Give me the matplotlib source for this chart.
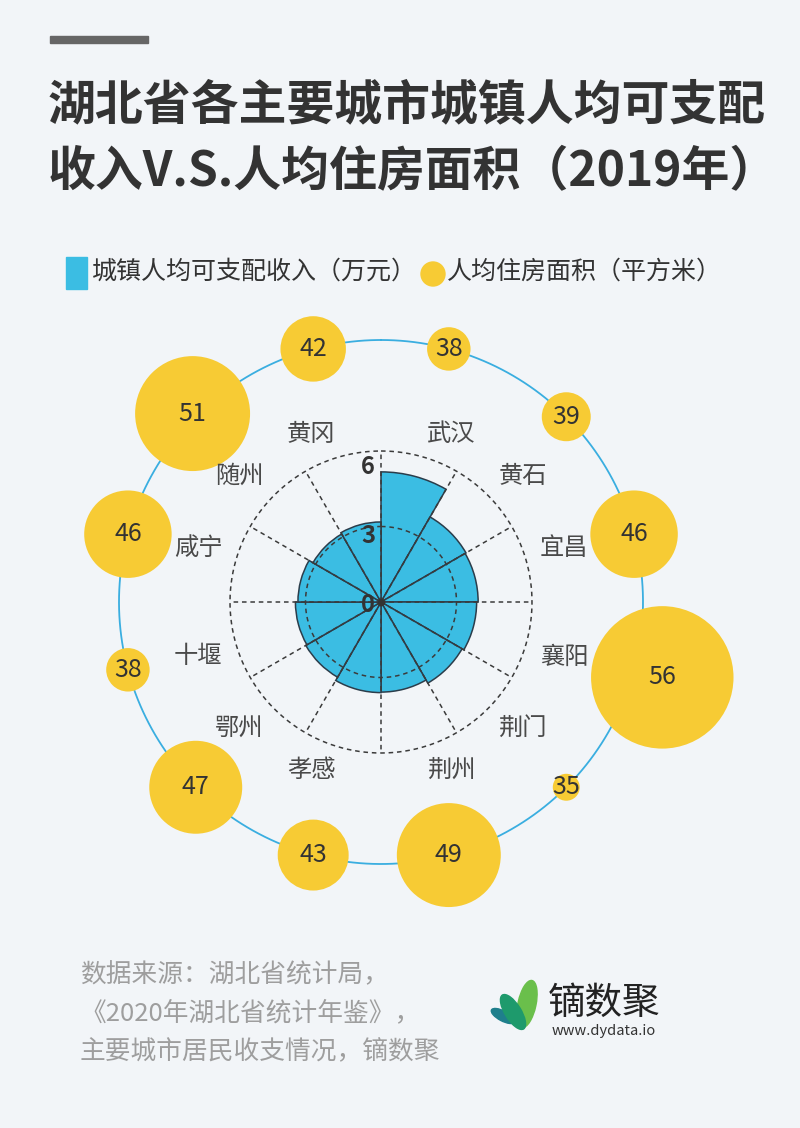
import numpy as np
import matplotlib
matplotlib.use("Agg")
import matplotlib.pyplot as plt
from matplotlib.patches import Rectangle, Circle, Ellipse

plt.rcParams["font.family"] = ["Noto Sans CJK SC", "DejaVu Sans"]

# ── data ───────────────────────────────────────────────
cities = ["武汉", "黄石", "宜昌", "襄阳", "荆门", "荆州",
          "孝感", "鄂州", "十堰", "咸宁", "随州", "黄冈"]
income = [5.17, 3.90, 3.86, 3.80, 3.72, 3.58,
          3.60, 3.45, 3.40, 3.30, 3.12, 3.18]      # 万元
area = [38, 39, 46, 56, 35, 49, 43, 47, 38, 46, 51, 42]  # 平方米
r_ticks = [0, 3, 6]

# ── colours ────────────────────────────────────────────
BG = "#f2f5f8"
BLUE = "#3bbde3"
YELLOW = "#f7cb34"
DARK = "#333333"

W, H = 800, 1128
fig = plt.figure(figsize=(W / 100, H / 100), dpi=100, facecolor=BG)

# pixel-coordinate layer for titles, legend and footer
deco = fig.add_axes([0, 0, 1, 1])
deco.set_xlim(0, W)
deco.set_ylim(H, 0)
deco.axis("off")

# ── polar chart ────────────────────────────────────────
CX, CY = 381, 602          # centre in pixels
PX = 151 / 6               # pixels per 万元
R_AX = 381                 # axes radius in px
RING = 262                 # bubble ring radius in px
LAB = 160                  # city label radius in px

ax = fig.add_axes([(CX - R_AX) / W, (H - CY - R_AX) / H,
                   2 * R_AX / W, 2 * R_AX / H], projection="polar")
ax.set_theta_zero_location("N")
ax.set_theta_direction(-1)
ax.set_ylim(0, R_AX / PX)
ax.patch.set_alpha(0)
ax.grid(False)
ax.set_xticks([])
ax.set_yticks([])
ax.spines["polar"].set_visible(False)

n = len(cities)
theta = np.deg2rad(15 + 30 * np.arange(n))
ax.bar(theta, income, width=np.deg2rad(30), color=BLUE,
       edgecolor="#2b3d4b", linewidth=1.1, zorder=2)

tt = np.linspace(0, 2 * np.pi, 500)
dash = (0, (3, 2.5))
for v in r_ticks[1:]:
    ax.plot(tt, np.full_like(tt, v), ls=dash, color="#3b3b3b", lw=1.1, zorder=3)
for a in np.deg2rad(np.arange(0, 360, 30)):
    ax.plot([a, a], [0, max(r_ticks)], ls=dash, color="#3b3b3b", lw=1.1, zorder=3)
ax.scatter([0], [0], s=18, color="#333333", zorder=4)

for v in r_ticks:
    ax.annotate(str(v), xy=(0, v), xytext=(-13 * 0.72, -(3 + 2.2 * v) * 0.72),
                textcoords="offset points", ha="center", va="center",
                fontsize=17, fontweight="bold", color=DARK, zorder=6)

# ring + bubbles
ax.plot(tt, np.full_like(tt, RING / PX), color="#3aaee0", lw=1.3, zorder=1)
rb = 2.75 * (np.array(area) - 30.1)            # bubble radius, px
push = np.clip(rb - 55, 0, None) * 1.8
rr = (RING + push) / PX
ax.scatter(theta, rr, s=(2 * rb * 0.72) ** 2, color=YELLOW,
           linewidths=0, zorder=4, clip_on=False)
for t, r, v in zip(theta, rr, area):
    ax.text(t, r, str(v), ha="center", va="center", fontsize=18,
            color=DARK, zorder=5)

for t, c in zip(theta, cities):
    s_, c_ = np.sin(t), np.cos(t)
    ax.annotate(c, xy=(t, LAB / PX), xytext=(3 * np.sign(s_), 0),
                textcoords="offset points",
                ha="left" if s_ > 0 else "right",
                va="bottom" if c_ > 0 else "top",
                fontsize=17.5, color="#4a4a4a", zorder=5)

# ── title ──────────────────────────────────────────────
deco.add_patch(Rectangle((50, 36), 98, 7, color="#666666"))
deco.text(48, 105, "湖北省各主要城市城镇人均可支配", fontsize=34.5,
          fontweight="bold", color=DARK, va="center", ha="left")
deco.text(48, 172, "收入V.S.人均住房面积（2019年）", fontsize=34.5,
          fontweight="bold", color=DARK, va="center", ha="left")

# ── legend ─────────────────────────────────────────────
deco.add_patch(Rectangle((66, 257), 21, 32, color=BLUE))
deco.text(92, 272, "城镇人均可支配收入（万元）", fontsize=18,
          color=DARK, va="center", ha="left")
deco.add_patch(Circle((433, 274), 12, color=YELLOW))
deco.text(447, 272, "人均住房面积（平方米）", fontsize=18,
          color=DARK, va="center", ha="left")

# ── footer ─────────────────────────────────────────────
footer = ["数据来源：湖北省统计局，", "《2020年湖北省统计年鉴》，",
          "主要城市居民收支情况，镝数聚"]
for i, line in enumerate(footer):
    deco.text(80, 975 + 38.5 * i, line, fontsize=18.5, color="#9e9e9e",
              va="center", ha="left")

# logo
deco.add_patch(Ellipse((527, 1004), 18, 48, angle=12, color="#6abf4b"))
deco.add_patch(Ellipse((503, 1016), 10, 26, angle=-62, color="#1f7f8c"))
deco.add_patch(Ellipse((513, 1012), 16, 40, angle=-32, color="#1e9a6c"))
deco.text(548, 1003, "镝数聚", fontsize=27, color="#222222",
          va="center", ha="left")
deco.text(552, 1031, "www.dydata.io", fontsize=10.5, color="#333333",
          va="center", ha="left")

fig.savefig("out.png", dpi=100, facecolor=BG)
